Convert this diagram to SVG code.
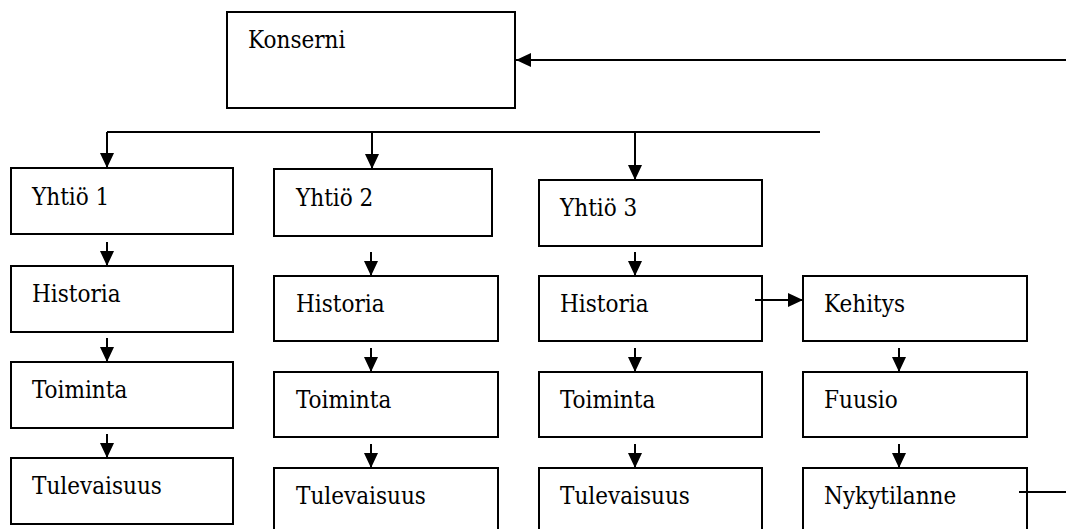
<svg xmlns="http://www.w3.org/2000/svg" width="1066" height="529" viewBox="0 0 1066 529">
<style>
.box{fill:#fff;stroke:#000;stroke-width:2}
text{font-family:'DejaVu Serif',serif;font-stretch:condensed;font-size:24px;fill:#000}
.ln{fill:none;stroke:#000;stroke-width:2}
</style>
<defs>
<marker id="ah" markerUnits="userSpaceOnUse" viewBox="0 0 15 14" refX="15" refY="7" markerWidth="15" markerHeight="14" orient="auto">
<path d="M0,0 L15,7 L0,14 Z" fill="#000"/>
</marker>
</defs>
<rect width="1066" height="529" fill="#fff"/>
<g id="konserni"><rect class="box" x="227" y="12" width="288" height="96"/><text x="248" y="48">Konserni</text></g>
<g id="yhtio1"><rect class="box" x="11" y="168" width="222" height="66"/><text x="32" y="205">Yhtiö 1</text></g>
<g id="yhtio2"><rect class="box" x="274" y="169" width="218" height="67"/><text x="296" y="206">Yhtiö 2</text></g>
<g id="yhtio3"><rect class="box" x="539" y="180" width="223" height="66"/><text x="560" y="216">Yhtiö 3</text></g>
<g id="historia1"><rect class="box" x="11" y="266" width="222" height="66"/><text x="32" y="302">Historia</text></g>
<g id="toiminta1"><rect class="box" x="11" y="362" width="222" height="66"/><text x="32" y="398">Toiminta</text></g>
<g id="tulevaisuus1"><rect class="box" x="11" y="458" width="222" height="66"/><text x="32" y="494">Tulevaisuus</text></g>
<g id="historia2"><rect class="box" x="274" y="276" width="224" height="65"/><text x="296" y="312">Historia</text></g>
<g id="toiminta2"><rect class="box" x="274" y="372" width="224" height="65"/><text x="296" y="408">Toiminta</text></g>
<g id="tulevaisuus2"><rect class="box" x="274" y="468" width="224" height="66"/><text x="296" y="504">Tulevaisuus</text></g>
<g id="historia3"><rect class="box" x="539" y="276" width="223" height="65"/><text x="560" y="312">Historia</text></g>
<g id="toiminta3"><rect class="box" x="539" y="372" width="223" height="65"/><text x="560" y="408">Toiminta</text></g>
<g id="tulevaisuus3"><rect class="box" x="539" y="468" width="223" height="66"/><text x="560" y="504">Tulevaisuus</text></g>
<g id="kehitys"><rect class="box" x="803" y="276" width="224" height="65"/><text x="824" y="312">Kehitys</text></g>
<g id="fuusio"><rect class="box" x="803" y="372" width="224" height="65"/><text x="824" y="408">Fuusio</text></g>
<g id="nykytilanne"><rect class="box" x="803" y="468" width="224" height="66"/><text x="824" y="504">Nykytilanne</text></g>
<g id="connectors">
<path class="ln" d="M1066,60 H516" marker-end="url(#ah)"/>
<path class="ln" d="M107,132 H820"/>
<path class="ln" d="M107,132 V168" marker-end="url(#ah)"/>
<path class="ln" d="M372,132 V169" marker-end="url(#ah)"/>
<path class="ln" d="M635,132 V180" marker-end="url(#ah)"/>
<path class="ln" d="M107,242 V266" marker-end="url(#ah)"/>
<path class="ln" d="M107,338 V362" marker-end="url(#ah)"/>
<path class="ln" d="M107,434 V458" marker-end="url(#ah)"/>
<path class="ln" d="M371,252 V276" marker-end="url(#ah)"/>
<path class="ln" d="M371,348 V372" marker-end="url(#ah)"/>
<path class="ln" d="M371,444 V468" marker-end="url(#ah)"/>
<path class="ln" d="M635,252 V276" marker-end="url(#ah)"/>
<path class="ln" d="M635,348 V372" marker-end="url(#ah)"/>
<path class="ln" d="M635,444 V468" marker-end="url(#ah)"/>
<path class="ln" d="M899,348 V372" marker-end="url(#ah)"/>
<path class="ln" d="M899,444 V468" marker-end="url(#ah)"/>
<path class="ln" d="M755,300 H803" marker-end="url(#ah)"/>
<path class="ln" d="M1019,492 H1066"/>
</g>
</svg>
